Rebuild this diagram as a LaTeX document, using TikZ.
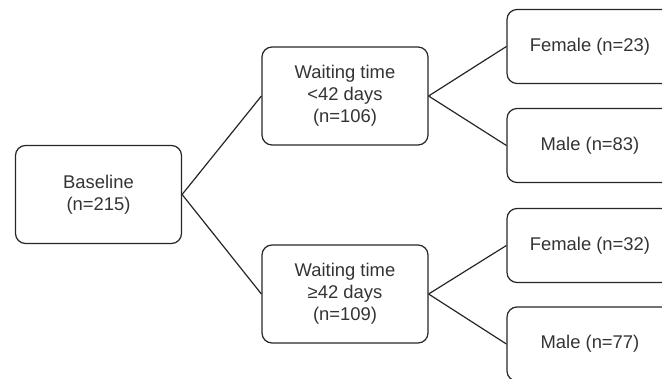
\documentclass[tikz,border=0pt]{standalone}
\usepackage{fontspec}
\setmainfont{Liberation Sans}
\usepackage{tikz}
\usetikzlibrary{positioning}

\begin{document}
\begin{tikzpicture}[
    x=0.5pt, y=-0.5pt,
    line width=0.6pt,
    grp/.style={draw=black!85, rounded corners=5pt, minimum width=83pt, minimum height=49pt,
        align=center, text=black!80, font=\fontsize{9.2}{11}\selectfont},
    sexbox/.style={grp, minimum height=37pt},
    link/.style={draw=black!85}
]
% Frame (right column is cut by the page edge)
\useasboundingbox (0,0) rectangle (662,379);
\clip (0,0) rectangle (662,379);

% Column positions
\def\colA{98.5}
\def\colB{345}
\def\colC{590}

% === Baseline ===
\node[grp] (base) at (\colA, 194.5) {Baseline\\(n=215)};

% === Waiting time groups ===
\node[grp] (wlow) at (\colB, 96) {Waiting time\\<42 days\\(n=106)};
\node[grp] (whigh) at (\colB, 294) {Waiting time\\≥42 days\\(n=109)};

% === Sex split ===
\node[sexbox] (flow) at (\colC, 46.5) {Female (n=23)};
\node[sexbox] (mlow) at (\colC, 145.5) {Male (n=83)};
\node[sexbox] (fhigh) at (\colC, 245.5) {Female (n=32)};
\node[sexbox] (mhigh) at (\colC, 344) {Male (n=77)};

% Lines
\draw[link] (base.east) -- (wlow.west);
\draw[link] (base.east) -- (whigh.west);
\draw[link] (wlow.east) -- (flow.west);
\draw[link] (wlow.east) -- (mlow.west);
\draw[link] (whigh.east) -- (fhigh.west);
\draw[link] (whigh.east) -- (mhigh.west);

\end{tikzpicture}
\end{document}
